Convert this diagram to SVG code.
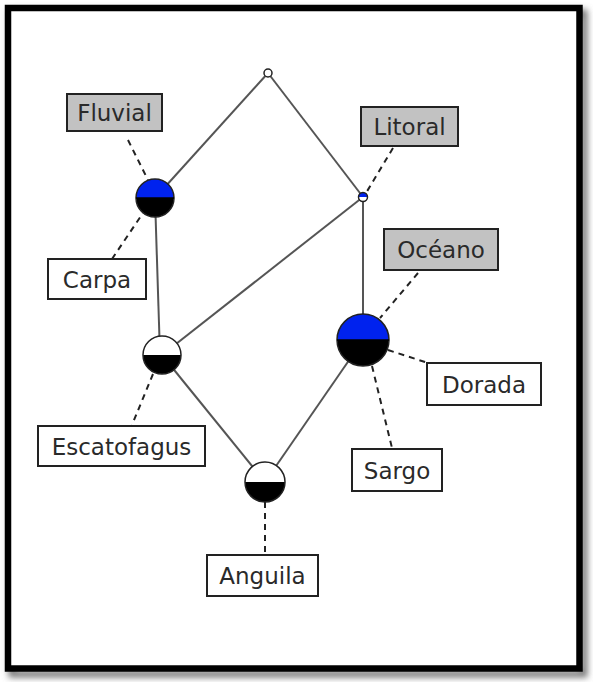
<svg xmlns="http://www.w3.org/2000/svg" width="593" height="682" viewBox="0 0 593 682">
<defs>
<filter id="sh" x="-10%" y="-10%" width="120%" height="120%"><feGaussianBlur stdDeviation="3"/></filter>
<clipPath id="c1"><circle cx="155" cy="198" r="19"/></clipPath>
<clipPath id="c2"><circle cx="363" cy="197" r="4.5"/></clipPath>
<clipPath id="c3"><circle cx="162" cy="355" r="19"/></clipPath>
<clipPath id="c4"><circle cx="363" cy="340" r="26"/></clipPath>
<clipPath id="c5"><circle cx="265" cy="482" r="20"/></clipPath>
</defs>
<style>
.edge{stroke:#555;stroke-width:2;fill:none}
.dash{stroke:#222;stroke-width:2;stroke-dasharray:6 5;fill:none}
.box{stroke:#222;stroke-width:2}
.gray{fill:#c2c2c2}
.white{fill:#fff}
.lbl{font-family:"DejaVu Sans",sans-serif;font-size:23px;fill:#2a2a2a;text-anchor:middle}
.ring{fill:none;stroke:#222;stroke-width:1.5}
</style>
<rect width="593" height="682" fill="#fff"/>
<rect x="12" y="13" width="572" height="661" fill="none" stroke="#777" stroke-width="7" filter="url(#sh)"/>
<rect x="8" y="8" width="571.5" height="660.5" fill="#fff" stroke="#000" stroke-width="6.5"/>
<g id="connectors">
<line class="edge" x1="268" y1="73" x2="155" y2="198"/>
<line class="edge" x1="268" y1="73" x2="363" y2="197"/>
<line class="edge" x1="155" y1="198" x2="160" y2="355"/>
<line class="edge" x1="363" y1="197" x2="162" y2="355"/>
<line class="edge" x1="363" y1="197" x2="363" y2="340"/>
<line class="edge" x1="162" y1="355" x2="265" y2="482"/>
<line class="edge" x1="363" y1="340" x2="265" y2="482"/>
<line class="dash" x1="128" y1="140" x2="148" y2="180"/>
<line class="dash" x1="112" y1="259" x2="143" y2="213"/>
<line class="dash" x1="393" y1="148" x2="366" y2="193"/>
<line class="dash" x1="418" y1="273" x2="380" y2="318"/>
<line class="dash" x1="388" y1="350" x2="428" y2="363"/>
<line class="dash" x1="372" y1="366" x2="392" y2="448"/>
<line class="dash" x1="153" y1="374" x2="132" y2="425"/>
<line class="dash" x1="265" y1="502" x2="265" y2="555"/>
</g>
<g id="top"><circle cx="268" cy="73" r="4" fill="#fff" stroke="#222" stroke-width="1.5"/></g>
<g id="fluvial">
<g clip-path="url(#c1)"><rect x="130" y="175" width="50" height="23" fill="#0022ee"/><rect x="130" y="198" width="50" height="25" fill="#000"/></g>
<circle class="ring" cx="155" cy="198" r="19"/>
<line x1="136" y1="198" x2="174" y2="198" stroke="#000" stroke-width="1.5"/>
</g>
<g id="litoral">
<g clip-path="url(#c2)"><rect x="356" y="190" width="14" height="7" fill="#0022ee"/><rect x="356" y="197" width="14" height="8" fill="#fff"/></g>
<circle class="ring" cx="363" cy="197" r="4.5"/>
</g>
<g id="escatofagus">
<g clip-path="url(#c3)"><rect x="140" y="332" width="45" height="23" fill="#fff"/><rect x="140" y="355" width="45" height="25" fill="#000"/></g>
<circle class="ring" cx="162" cy="355" r="19"/>
</g>
<g id="oceano">
<g clip-path="url(#c4)"><rect x="335" y="312" width="56" height="28" fill="#0022ee"/><rect x="335" y="340" width="56" height="30" fill="#000"/></g>
<circle class="ring" cx="363" cy="340" r="26"/>
<line x1="337" y1="340" x2="389" y2="340" stroke="#000" stroke-width="1.5"/>
</g>
<g id="anguila">
<g clip-path="url(#c5)"><rect x="242" y="460" width="46" height="22" fill="#fff"/><rect x="242" y="482" width="46" height="25" fill="#000"/></g>
<circle class="ring" cx="265" cy="482" r="20"/>
</g>
<g id="lbl-fluvial"><rect class="box gray" x="67" y="94" width="95" height="37"/><text class="lbl" x="114.5" y="121">Fluvial</text></g>
<g id="lbl-carpa"><rect class="box white" x="48" y="259" width="98" height="40"/><text class="lbl" x="97" y="288">Carpa</text></g>
<g id="lbl-litoral"><rect class="box gray" x="361" y="107" width="97" height="39"/><text class="lbl" x="409.5" y="135">Litoral</text></g>
<g id="lbl-oceano"><rect class="box gray" x="384" y="229" width="114" height="41"/><text class="lbl" x="441" y="258">Océano</text></g>
<g id="lbl-dorada"><rect class="box white" x="427" y="363" width="114" height="42"/><text class="lbl" x="484" y="393">Dorada</text></g>
<g id="lbl-escatofagus"><rect class="box white" x="38" y="426" width="167" height="40"/><text class="lbl" x="121.5" y="455">Escatofagus</text></g>
<g id="lbl-sargo"><rect class="box white" x="352" y="449" width="90" height="42"/><text class="lbl" x="397" y="479">Sargo</text></g>
<g id="lbl-anguila"><rect class="box white" x="207" y="555" width="111" height="41"/><text class="lbl" x="262.5" y="584">Anguila</text></g>
</svg>
